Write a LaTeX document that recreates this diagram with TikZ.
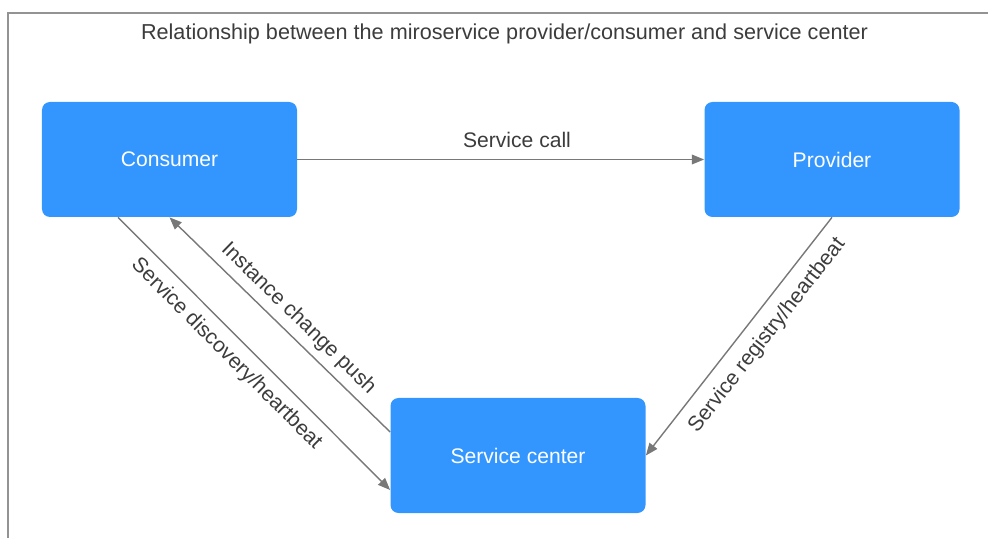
\documentclass[tikz,border=0pt]{standalone}
\usepackage{fontspec}
\setmainfont{Liberation Sans}
\usetikzlibrary{arrows.meta}
\definecolor{boxblue}{RGB}{51,150,255}
\definecolor{linegray}{RGB}{120,120,120}
\definecolor{textgray}{RGB}{60,60,60}

\begin{document}
\begin{tikzpicture}[>={Triangle[length=7pt,width=5.5pt]},
    every node/.style={font=\fontsize{12}{14}\selectfont},
    svc/.style={fill=boxblue,rounded corners=.16cm,minimum width=5.1cm,minimum height=2.3cm,text=white},
    link/.style={->,linegray,line width=.8pt},
    lbl/.style={text=textgray,sloped}]
    \useasboundingbox(0,0)rectangle(19.76,10.76);
    \draw[linegray!80,line width=.8pt](.16,0)--(.16,10.5)--(19.76,10.5);
    \node[text=textgray,font=\fontsize{12.3}{14}\selectfont](title)at(10.09,10.08){Relationship between the miroservice provider/consumer and service center};
    \node[svc](consumer)at(3.39,7.57){Consumer};
    \node[svc](provider)at(16.64,7.57){Provider};
    \node[svc](center)at(10.36,1.65){Service center};
    \draw[link](consumer)--(provider)node[pos=.54,above=3pt,text=textgray]{Service call};
    \draw[link]([xshift=-1.03cm]consumer.south)--([yshift=-.69cm]center.west)node[lbl,pos=.45,below=2pt]{Service discovery/heartbeat};
    \draw[link]([yshift=.47cm]center.west)--(consumer.south)node[lbl,pos=.47,above=.5pt]{Instance change push};
    \draw[link](provider.south)--(center.east)node[lbl,pos=.44,below=3pt]{Service registry/heartbeat};
\end{tikzpicture}
\end{document}
